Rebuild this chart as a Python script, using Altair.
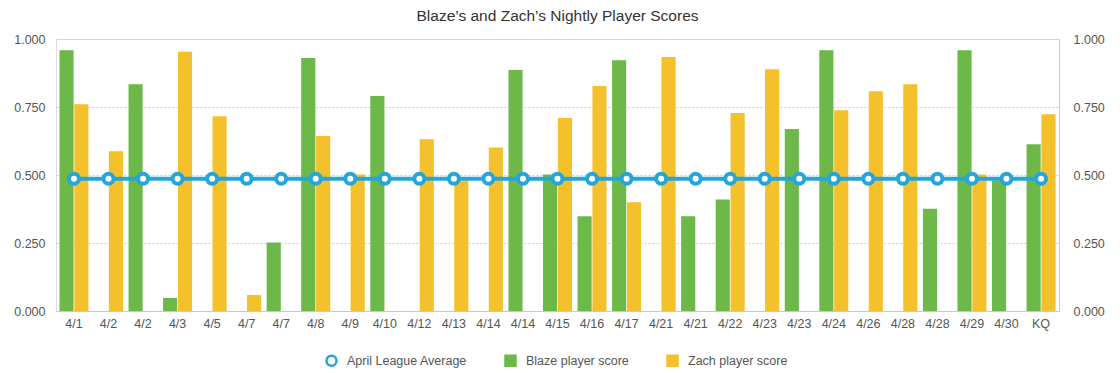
import altair as alt
import pandas as pd

labels = ["4/1", "4/2", "4/2", "4/3", "4/5", "4/7", "4/7", "4/8", "4/9", "4/10",
          "4/12", "4/13", "4/14", "4/14", "4/15", "4/16", "4/17", "4/21", "4/21", "4/22",
          "4/23", "4/23", "4/24", "4/26", "4/28", "4/28", "4/29", "4/30", "KQ"]
blaze = [0.959, None, 0.834, 0.048, None, None, 0.252, 0.930, None, 0.790,
         None, None, None, 0.886, 0.502, 0.348, 0.922, None, 0.348, 0.410,
         None, 0.669, 0.959, None, None, 0.376, 0.959, 0.480, 0.613]
zach = [0.760, 0.587, None, 0.953, 0.716, 0.059, None, 0.643, 0.502, None,
        0.631, 0.480, 0.601, None, 0.710, 0.827, 0.400, 0.934, None, 0.728,
        0.889, None, 0.738, 0.808, 0.834, None, 0.502, None, 0.723]
league_avg = [0.486] * len(labels)

series_names = ["April League Average", "Blaze player score", "Zach player score"]
stroke_colors = ["#25a6da", "#6cb94a", "#f4c02c"]
fill_colors = ["#ffffff", "#6cb94a", "#f4c02c"]
shapes = ["circle", "square", "square"]
tick_values = [0, 0.25, 0.5, 0.75, 1.0]

keys = [f"{i:02d}" for i in range(len(labels))]
label_expr = "{" + ",".join(f"'{k}':'{l}'" for k, l in zip(keys, labels)) + "}[datum.value]"

rows = []
for k, b, z in zip(keys, blaze, zach):
    if b is not None:
        rows.append({"key": k, "series": "Blaze player score", "value": b})
    if z is not None:
        rows.append({"key": k, "series": "Zach player score", "value": z})
bars_df = pd.DataFrame(rows)
line_df = pd.DataFrame({"key": keys, "series": "April League Average", "value": league_avg})

font = "Liberation Sans"
label_color = "#555555"

x = alt.X("key:N", sort=keys, title=None,
          scale=alt.Scale(paddingInner=0.16, paddingOuter=0.1),
          axis=alt.Axis(labelExpr=label_expr, labelAngle=0, ticks=False,
                        domainColor="#c8c8c8", labelColor=label_color,
                        labelFontSize=12.5, labelFont=font, labelPadding=6, grid=False))

yscale = alt.Scale(domain=[0, 1])
leg = alt.Legend(title=None, orient="none", direction="horizontal", legendX=269, legendY=315,
                 padding=0, symbolSize=100, symbolStrokeWidth=2.5, labelFontSize=12.5,
                 labelColor=label_color, labelFont=font, columnPadding=33, labelOffset=9)

bars = alt.Chart(bars_df).mark_bar().encode(
    x=x,
    xOffset=alt.XOffset("series:N", sort=["Blaze player score", "Zach player score"],
                        scale=alt.Scale(domain=["Blaze player score", "Zach player score"],
                                        paddingInner=0.05)),
    y=alt.Y("value:Q", scale=yscale, title=None,
            axis=alt.Axis(format=".3f", values=tick_values, ticks=False,
                          domain=False, gridDash=[2, 2], gridColor="#cccccc",
                          labelColor=label_color, labelFontSize=12.5, labelFont=font,
                          labelPadding=11)),
    fill=alt.Fill("series:N", scale=alt.Scale(domain=series_names, range=fill_colors), legend=leg),
)

line = alt.Chart(line_df).mark_line(color="#25a6da", strokeWidth=4).encode(
    x=x,
    y=alt.Y("value:Q", scale=yscale, title=None,
            axis=alt.Axis(orient="right", format=".3f", values=tick_values,
                          ticks=False, domainColor="#c8c8c8", grid=False,
                          labelColor=label_color, labelFontSize=12.5, labelFont=font,
                          labelPadding=14)),
)
points = alt.Chart(line_df).mark_point(strokeWidth=4, size=100, opacity=1).encode(
    x=x, y=alt.Y("value:Q", scale=yscale, axis=None),
    color=alt.Color("series:N", scale=alt.Scale(domain=series_names, range=stroke_colors), legend=leg),
    fill=alt.Fill("series:N", scale=alt.Scale(domain=series_names, range=fill_colors), legend=leg),
    shape=alt.Shape("series:N", scale=alt.Scale(domain=series_names, range=shapes), legend=leg),
)

chart = alt.layer(bars, line, points).resolve_scale(y="shared").resolve_axis(
    y="independent").properties(
    width=1003, height=272,
    title=alt.TitleParams("Blaze’s and Zach’s Nightly Player Scores", fontSize=15.5,
                          fontWeight="normal", color="#333333", font=font, offset=5, dy=-4),
).configure_view(stroke=None).configure(padding={"left": 5, "top": 0, "right": 5, "bottom": 5})

chart.save("out.html", embed_options={"renderer": "svg", "actions": False})
